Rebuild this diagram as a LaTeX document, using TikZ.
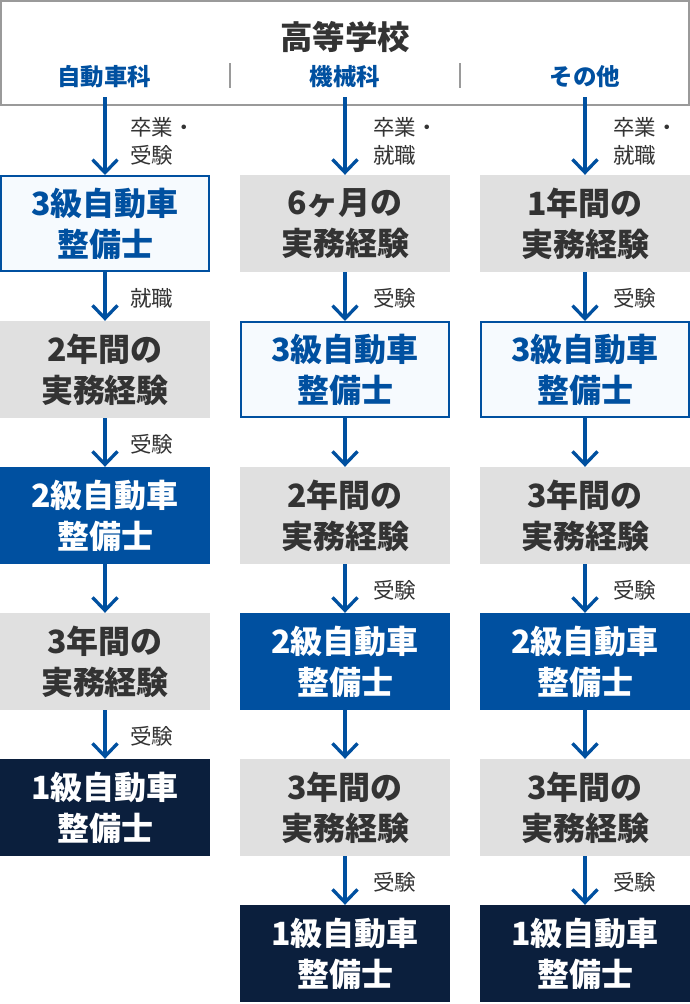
\documentclass[tikz,border=0pt]{standalone}
\usepackage{fontspec}
\setmainfont{Noto Sans CJK JP}
\usetikzlibrary{arrows.meta}
\definecolor{mblue}{HTML}{0050A0}
\definecolor{mnavy}{HTML}{0B1F3D}
\definecolor{mgrey}{HTML}{E0E0E0}
\definecolor{mtext}{HTML}{333333}
\definecolor{mlight}{HTML}{F6FAFE}
\definecolor{mframe}{HTML}{9A9A9A}
\tikzset{
  boxbase/.style={minimum width=210pt, minimum height=97pt, inner sep=0pt, align=center,
    font=\fontsize{32}{41}\selectfont\bfseries},
  lightbox/.style={boxbase, fill=mlight, draw=mblue, line width=2pt, minimum width=208pt, minimum height=95pt, text=mblue},
  greybox/.style={boxbase, fill=mgrey, text=mtext},
  bluebox/.style={boxbase, fill=mblue, text=white},
  navybox/.style={boxbase, fill=mnavy, text=white},
  lbl/.style={anchor=west, align=left, inner sep=0pt, text=mtext, font=\fontsize{21.5}{28}\selectfont},
  arr/.style={draw=mblue, line width=3.3pt, -{Straight Barb[length=13pt,width=25pt,line width=3.3pt]}},
  sub/.style={text=mblue, font=\fontsize{23.5}{28}\selectfont\bfseries, inner sep=0pt},
}
\begin{document}
\begin{tikzpicture}[x=1pt,y=-1pt]
\useasboundingbox (0,0) rectangle (690,1004);
\fill[white] (0,0) rectangle (690,1004);
% top box
\draw[mframe, line width=2pt] (1,1) rectangle (689,105);
\node[text=mtext, font=\fontsize{32.5}{36}\selectfont\bfseries, inner sep=0pt] (title) at (345,37) {高等学校};
\node[sub] (h1) at (104,77) {自動車科};
\node[sub] (h2) at (345,77) {機械科};
\node[sub] (h3) at (585,77) {その他};
\draw[mframe, line width=2pt] (230,63) -- (230,88);
\draw[mframe, line width=2pt] (460,63) -- (460,88);
\coordinate (s1) at (105,97);
\coordinate (s2) at (345,97);
\coordinate (s3) at (585,97);
% column 1
\node[lightbox] (a1) at (105,223.5) {3級自動車\\整備士};
\node[greybox]  (a2) at (105,369.5) {2年間の\\実務経験};
\node[bluebox]  (a3) at (105,515.5) {2級自動車\\整備士};
\node[greybox]  (a4) at (105,661.5) {3年間の\\実務経験};
\node[navybox]  (a5) at (105,807.5) {1級自動車\\整備士};
% column 2
\node[greybox]  (b1) at (345,223.5) {6ヶ月の\\実務経験};
\node[lightbox] (b2) at (345,369.5) {3級自動車\\整備士};
\node[greybox]  (b3) at (345,515.5) {2年間の\\実務経験};
\node[bluebox]  (b4) at (345,661.5) {2級自動車\\整備士};
\node[greybox]  (b5) at (345,807.5) {3年間の\\実務経験};
\node[navybox]  (b6) at (345,953.5) {1級自動車\\整備士};
% column 3
\node[greybox]  (c1) at (585,223.5) {1年間の\\実務経験};
\node[lightbox] (c2) at (585,369.5) {3級自動車\\整備士};
\node[greybox]  (c3) at (585,515.5) {3年間の\\実務経験};
\node[bluebox]  (c4) at (585,661.5) {2級自動車\\整備士};
\node[greybox]  (c5) at (585,807.5) {3年間の\\実務経験};
\node[navybox]  (c6) at (585,953.5) {1級自動車\\整備士};
% arrows
\draw[arr] (s1) -- (a1.north);
\draw[arr] (a1) -- (a2);
\draw[arr] (a2) -- (a3);
\draw[arr] (a3) -- (a4);
\draw[arr] (a4) -- (a5);
\draw[arr] (s2) -- (b1.north);
\draw[arr] (b1) -- (b2);
\draw[arr] (b2) -- (b3);
\draw[arr] (b3) -- (b4);
\draw[arr] (b4) -- (b5);
\draw[arr] (b5) -- (b6);
\draw[arr] (s3) -- (c1.north);
\draw[arr] (c1) -- (c2);
\draw[arr] (c2) -- (c3);
\draw[arr] (c3) -- (c4);
\draw[arr] (c4) -- (c5);
\draw[arr] (c5) -- (c6);
% labels
\node[lbl] (la0) at (130,141) {卒業・\\受験};
\node[lbl] (la1) at (130,298) {就職};
\node[lbl] (la2) at (130,444) {受験};
\node[lbl] (la4) at (130,736) {受験};
\node[lbl] (lb0) at (373,141) {卒業・\\就職};
\node[lbl] (lb1) at (373,298) {受験};
\node[lbl] (lb3) at (373,590) {受験};
\node[lbl] (lb5) at (373,882) {受験};
\node[lbl] (lc0) at (613,141) {卒業・\\就職};
\node[lbl] (lc1) at (613,298) {受験};
\node[lbl] (lc3) at (613,590) {受験};
\node[lbl] (lc5) at (613,882) {受験};
\end{tikzpicture}
\end{document}
